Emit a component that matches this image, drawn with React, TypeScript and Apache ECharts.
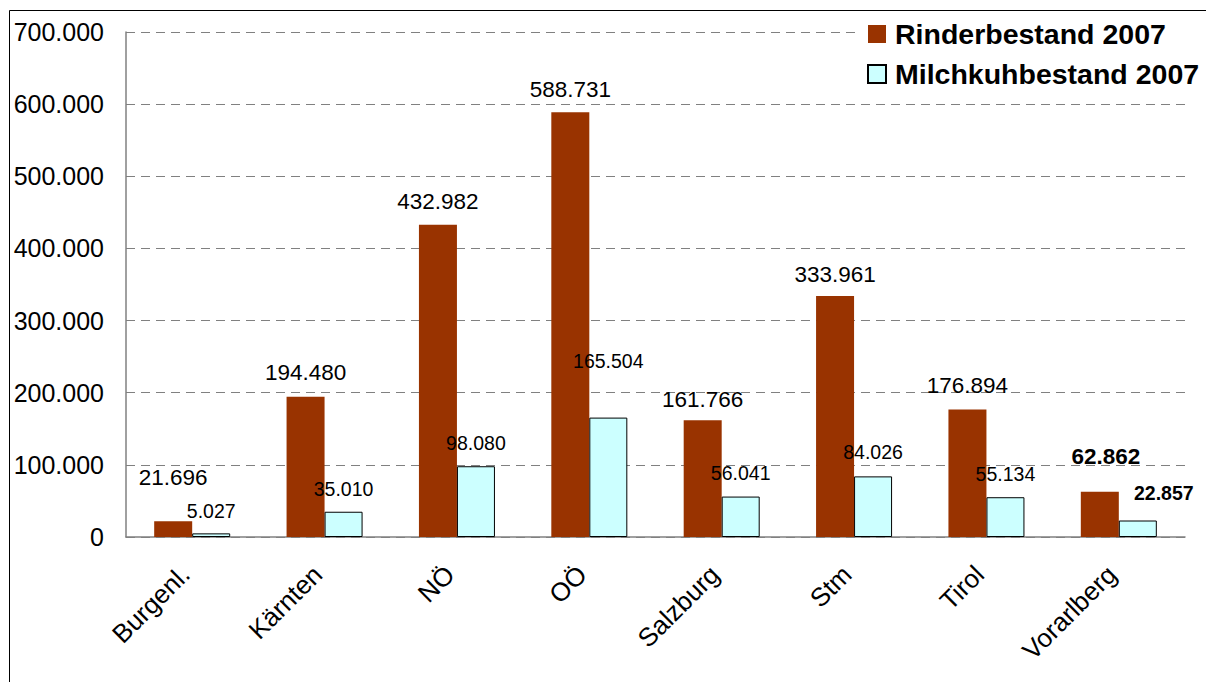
import React, { useEffect, useRef } from "react";
import * as echarts from "echarts";

const categories = ["Burgenl.", "Kärnten", "NÖ", "OÖ", "Salzburg", "Stm", "Tirol", "Vorarlberg"];
const rinder = [21696, 194480, 432982, 588731, 161766, 333961, 176894, 62862];
const milch = [5027, 35010, 98080, 165504, 56041, 84026, 55134, 22857];
const seriesNames = ["Rinderbestand 2007", "Milchkuhbestand 2007"];
const yTicks = [0, 100000, 200000, 300000, 400000, 500000, 600000, 700000];

// label placement tweaks (distance above bar, x offset, bold)
const rinderLabelDist = [32, 13, 12, 11, 9, 10, 12, 24];
const rinderLabelDx = [0, 0, 0, 0, 0, 0, 0, 6];
const rinderBold = [false, false, false, false, false, false, false, true];
const milchLabelDist = [12, 13, 13, 47, 14, 14, 13, 18];
const milchLabelDx = [0, 0, 0, 0, 0, 0, 0, 26];
const milchBold = [false, false, false, false, false, false, false, true];

const FONT = "Liberation Sans, Arial, sans-serif";

function fmt(v: number): string {
  const s = Math.round(v).toString();
  return s.replace(/\B(?=(\d{3})+(?!\d))/g, ".");
}

export default function App() {
  const ref = useRef<HTMLDivElement>(null);
  useEffect(() => {
    if (!ref.current) return;
    const chart = echarts.init(ref.current, null, { renderer: "svg" });
    const mk = (vals: number[], dist: number[], dx: number[], bold: boolean[], size: number) =>
      vals.map((v, i) => ({
        value: v,
        label: {
          show: true,
          position: "top",
          distance: dist[i],
          offset: [dx[i], 0],
          fontWeight: bold[i] ? "bold" : "normal",
          fontSize: size,
          color: "#000",
          fontFamily: FONT,
          formatter: (p: any) => fmt(p.value),
        },
      }));
    chart.setOption({
      animation: false,
      backgroundColor: "#fff",
      grid: { left: 126, top: 32, right: 21, bottom: 145, containLabel: false },
      legend: {
        orient: "vertical",
        left: 857,
        top: 8,
        padding: [11, 40, 10, 10],
        backgroundColor: "#fff",
        itemWidth: 18,
        itemHeight: 18,
        itemGap: 10,
        icon: "rect",
        data: seriesNames,
        textStyle: {
          fontFamily: FONT,
          fontWeight: "bold",
          fontSize: 28.5,
          color: "#000",
          lineHeight: 30,
          padding: [0, 0, 0, 4],
        },
        z: 10,
      },
      xAxis: {
        type: "category",
        data: categories,
        axisLine: { show: true, lineStyle: { color: "#808080", width: 1.5 } },
        axisTick: { show: false },
        axisLabel: {
          rotate: 45,
          fontSize: 26,
          fontFamily: FONT,
          color: "#000",
          margin: 26,
          padding: [0, 10, 0, 0],
          interval: 0,
        },
      },
      yAxis: {
        type: "value",
        min: 0,
        max: 700000,
        interval: 100000,
        axisLine: { show: true, lineStyle: { color: "#808080", width: 1.5 } },
        axisTick: { show: false },
        splitLine: { show: true, lineStyle: { color: "#808080", type: [9, 6], width: 1 } },
        axisLabel: {
          fontSize: 25,
          fontFamily: FONT,
          color: "#000",
          margin: 22,
          formatter: (v: number) => (yTicks.includes(v) ? fmt(v) : ""),
        },
      },
      series: [
        {
          name: seriesNames[0],
          type: "bar",
          barWidth: 38,
          barGap: "0%",
          itemStyle: { color: "#993300" },
          data: mk(rinder, rinderLabelDist, rinderLabelDx, rinderBold, 22.5),
        },
        {
          name: seriesNames[1],
          type: "bar",
          barWidth: 38,
          barGap: "0%",
          itemStyle: { color: "#CCFFFF", borderColor: "#000", borderWidth: 1 },
          data: mk(milch, milchLabelDist, milchLabelDx, milchBold, 19.5),
        },
      ],
      graphic: [
        {
          type: "rect",
          z: 100,
          silent: true,
          shape: { x: 9.5, y: 10.5, width: 1300, height: 900 },
          style: { fill: "none", stroke: "#000", lineWidth: 1 },
        },
      ],
    });
    return () => chart.dispose();
  }, []);
  return (
    <div
      ref={ref}
      style={{ position: "absolute", left: 0, top: 0, width: 1206, height: 682 }}
    />
  );
}
